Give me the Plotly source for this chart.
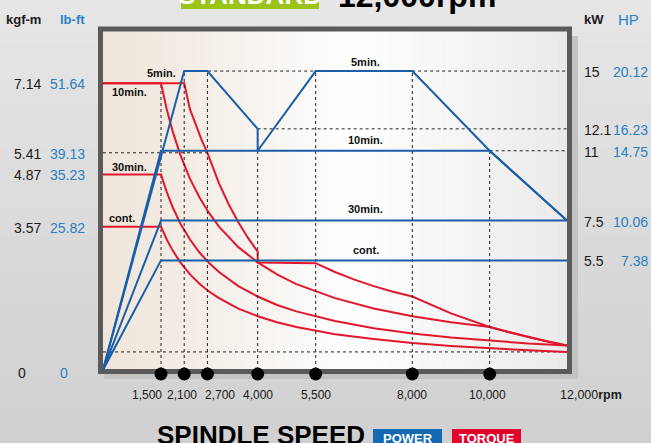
import plotly.graph_objects as go

# ---- data (rpm / kgf-m / kW) ----
rpm_ticks = [1500, 2100, 2700, 4000, 5500, 8000, 10000, 12000]
rpm_text = ["1,500", "2,100", "2,700", "4,000", "5,500", "8,000", "10,000", "12,000"]

torque_ticks = [7.14, 5.41, 4.87, 3.57]
lbft_text = ["51.64", "39.13", "35.23", "25.82"]
power_ticks = [15, 12.1, 11, 7.5, 5.5]
hp_text = ["20.12", "16.23", "14.75", "10.06", "7.38"]

# power curves
p5_rpm = [0, 2100, 2700, 4000, 4000, 5500, 8000, 10000, 12000]
p5_kw = [0, 15, 15, 12.1, 11, 15, 15, 11, 7.5]
p10_rpm = [0, 1500, 10000, 12000]
p10_kw = [0, 11, 11, 7.5]
p30_rpm = [0, 1500, 12000]
p30_kw = [0, 7.5, 7.5]
pc_rpm = [0, 1500, 12000]
pc_kw = [0, 5.5, 5.5]

# torque curves
t5_rpm = [0, 2100, 2250, 2400, 2550, 2700, 3000, 3250, 3500, 3750, 4000, 4000, 4750,
          5500, 6000, 6500, 7000, 7500, 8000, 9000, 10000, 10500, 11000, 11500, 12000]
t5_kgfm = [7.14, 7.14, 6.49, 6.09, 5.73, 5.41, 4.65, 4.13, 3.68, 3.29, 2.95, 2.68, 2.67,
           2.66, 2.44, 2.25, 2.09, 1.95, 1.83, 1.41, 1.07, 0.94, 0.82, 0.71, 0.61]
t10_rpm = [0, 1500, 1650, 1800, 2000, 2250, 2500, 2750, 3000, 3500, 4000, 4500, 5000,
           6000, 7000, 8000, 9000, 10000, 10500, 11000, 11500, 12000]
t10_kgfm = [7.14, 7.14, 6.49, 5.95, 5.36, 4.76, 4.29, 3.90, 3.57, 3.06, 2.68, 2.38, 2.14,
            1.79, 1.53, 1.34, 1.19, 1.07, 0.94, 0.82, 0.71, 0.61]
t30_rpm = [0, 1500, 1650, 1800, 2000, 2250, 2500, 2750, 3000, 3500, 4000, 4500, 5000,
           6000, 7000, 8000, 9000, 10000, 11000, 12000]
t30_kgfm = [4.87, 4.87, 4.43, 4.06, 3.65, 3.25, 2.92, 2.66, 2.44, 2.09, 1.83, 1.62, 1.46,
            1.22, 1.04, 0.91, 0.81, 0.73, 0.66, 0.61]
tc_rpm = [0, 1500, 1650, 1800, 2000, 2250, 2500, 2750, 3000, 3500, 4000, 4500, 5000,
          6000, 7000, 8000, 9000, 10000, 11000, 12000]
tc_kgfm = [3.57, 3.57, 3.25, 2.98, 2.68, 2.38, 2.14, 1.95, 1.79, 1.53, 1.34, 1.19, 1.07,
           0.89, 0.77, 0.67, 0.60, 0.54, 0.49, 0.45]

BLUE = "#1b5ea8"
RED = "#e3162d"
LBLUE = "#2a80c2"
FONT = "Liberation Sans, Arial, sans-serif"

# plot area in pixels: x 0..12000 -> L..R, zero level at Z, area bottom at PB
L, R, T, Z, PB = 103, 567, 31, 370, 380
W, H = 651, 443
TQ_PX = 40.15   # px per kgf-m
KW_PX = 19.93   # px per kW


def pxx(x):
    return (x - L) / (R - L)


def pxy(y):
    return (PB - y) / (PB - T)


def hexmix(c1, c2, f):
    a = [int(c1[i:i + 2], 16) for i in (1, 3, 5)]
    b = [int(c2[i:i + 2], 16) for i in (1, 3, 5)]
    return "#%02x%02x%02x" % tuple(round(a[k] + (b[k] - a[k]) * f) for k in range(3))


def grad(stops, pos):
    for (p0, c0), (p1, c1) in zip(stops, stops[1:]):
        if p0 <= pos <= p1:
            return hexmix(c0, c1, (pos - p0) / (p1 - p0))
    return stops[-1][1]


def rect(x0, x1, y0, y1, **kw):
    return dict(type="rect", xref="paper", yref="paper", layer="below",
                x0=pxx(x0), x1=pxx(x1), y0=pxy(y1), y1=pxy(y0), **kw)


shapes = []
# page background (vertical gradient)
bg_stops = [(0, "#e6e6e6"), (200, "#dcdcdc"), (443, "#d0d0d0")]
n = 30
for i in range(n):
    y0 = i * H / n
    y1 = (i + 1) * H / n + 1
    shapes.append(rect(0, W, y0, y1, fillcolor=grad(bg_stops, (y0 + y1) / 2), line_width=0))
# shadow
shapes.append(rect(104, 578, 36, 379, fillcolor="#c3c3c3", line_width=0))
# plot area (horizontal gradient)
pa_stops = [(L, "#efe5da"), (200, "#f4eee7"), (280, "#f9f6f3"), (345, "#ffffff"),
            (430, "#f8f8f8"), (R, "#eaeaea")]
n = 60
for i in range(n):
    x0 = L + i * (R - L) / n
    x1 = L + (i + 1) * (R - L) / n + 0.6
    shapes.append(rect(x0, x1, T, Z, fillcolor=grad(pa_stops, (x0 + x1) / 2), line_width=0))
# frame
shapes.append(rect(100.5, 569.5, 29, 371.5, line=dict(color="#5a5a5a", width=5)))
# title and legend boxes
shapes.append(rect(181, 319, -30, 9, fillcolor="#9cc31a", line_width=0))
shapes.append(rect(373, 442, 429, 450, fillcolor="#1568b2", line_width=0))
shapes.append(rect(452, 521, 429, 450, fillcolor="#e4022b", line_width=0))

fig = go.Figure()

dash = dict(color="#222222", width=1, dash="3px,3px")


def dline(xs, ys, axis="y"):
    fig.add_trace(go.Scatter(x=xs, y=ys, mode="lines", line=dash, yaxis=axis,
                             hoverinfo="skip", showlegend=False))


# dashed guides
dline([1500, 1500], [0, 7.14])
dline([0, 2700], [5.41, 5.41])
dline([0, 12000], [tc_kgfm[-1], tc_kgfm[-1]])
for xv, pv in [(2100, 15), (2700, 15), (4000, 12.1), (5500, 15), (8000, 15), (10000, 11)]:
    dline([xv, xv], [0, pv], "y2")
dline([2100, 12000], [15, 15], "y2")
dline([4000, 12000], [12.1, 12.1], "y2")
dline([10000, 12000], [11, 11], "y2")

# torque
for xs, ys in [(tc_rpm, tc_kgfm), (t30_rpm, t30_kgfm), (t10_rpm, t10_kgfm), (t5_rpm, t5_kgfm)]:
    fig.add_trace(go.Scatter(x=xs, y=ys, mode="lines", line=dict(color=RED, width=2),
                             showlegend=False))
# power
for xs, ys in [(pc_rpm, pc_kw), (p30_rpm, p30_kw), (p10_rpm, p10_kw), (p5_rpm, p5_kw)]:
    fig.add_trace(go.Scatter(x=xs, y=ys, mode="lines", line=dict(color=BLUE, width=2),
                             yaxis="y2", showlegend=False))

# dots on the speed axis (sit on the bottom of the frame, 4px below zero)
fig.add_trace(go.Scatter(x=rpm_ticks[:-1], y=[-4 / TQ_PX] * (len(rpm_ticks) - 1),
                         mode="markers", marker=dict(color="#000000", size=13),
                         cliponaxis=False, showlegend=False))

ann = []


def txt(x, y, s, size=14, color="#1a1a1a", xanchor="center", xref="paper", yref="paper",
        bold=False, **kw):
    ann.append(dict(x=x, y=y, xref=xref, yref=yref, text=f"<b>{s}</b>" if bold else s,
                    showarrow=False, xanchor=xanchor, yanchor="middle",
                    font=dict(family=FONT, size=size, color=color), **kw))


# axis headers
txt(pxx(43), pxy(19), "kgf-m", 13, xanchor="right", bold=True)
txt(pxx(87), pxy(19), "lb-ft", 13, LBLUE, xanchor="right", bold=True)
txt(pxx(582), pxy(19), "kW", 13, xanchor="left", bold=True)
txt(pxx(616), pxy(19), "HP", 15, LBLUE, xanchor="left")

# left tick labels
for tv, lb in zip(torque_ticks, lbft_text):
    txt(pxx(43), tv, f"{tv:.2f}", xanchor="right", yref="y", yshift=-1)
    txt(pxx(87), tv, lb, color=LBLUE, xanchor="right", yref="y", yshift=-1)
txt(pxx(16), 0, "0", xanchor="left", yref="y", yshift=-3)
txt(pxx(64), 0, "0", color=LBLUE, yref="y", yshift=-3)

# right tick labels
for pv, hp in zip(power_ticks, hp_text):
    txt(pxx(582), pv, f"{pv:g}", xanchor="left", yref="y2", yshift=-1)
    txt(pxx(650), pv, hp, color=LBLUE, xanchor="right", yref="y2", yshift=-1)

# speed tick labels
shifts = [-14, -2, 13, 0, 0, 0, -2]
for xv, s, sh in zip(rpm_ticks[:-1], rpm_text[:-1], shifts):
    txt(xv, pxy(395), s, 12, xref="x", xshift=sh)
txt(rpm_ticks[-1], pxy(395), rpm_text[-1] + "<b>rpm</b>", 12.5, xref="x", xanchor="left",
    xshift=-9)

# curve labels
for x, y, s, ax in [(1500, 7.40, "5min.", "y"), (685, 6.92, "10min.", "y"),
                    (680, 5.06, "30min.", "y"), (504, 3.79, "cont.", "y"),
                    (6800, 15.45, "5min.", "y2"), (6800, 11.54, "10min.", "y2"),
                    (6800, 8.08, "30min.", "y2"), (6800, 6.02, "cont.", "y2")]:
    txt(x, y, s, 11, "#111111", xref="x", yref=ax, bold=True)

# title (cut by page top) and footer
txt(pxx(250), pxy(-5), "STANDARD", 26, "#ffffff", bold=True)
txt(pxx(417), pxy(-4), "12,000rpm", 32, "#000000", bold=True)
txt(pxx(155), pxy(435), "SPINDLE SPEED", 26, "#000000", xanchor="left", bold=True)
txt(pxx(407.5), pxy(439), "POWER", 13, "#ffffff", bold=True)
txt(pxx(486.5), pxy(439), "TORQUE", 13, "#ffffff", bold=True)

fig.update_layout(
    width=W, height=H, autosize=False,
    margin=dict(l=L, r=W - R, t=T, b=H - PB, pad=0),
    paper_bgcolor="#dadada", plot_bgcolor="rgba(0,0,0,0)",
    shapes=shapes, annotations=ann, showlegend=False,
    xaxis=dict(range=[0, 12000], visible=False, fixedrange=True),
    yaxis=dict(range=[-(PB - Z) / TQ_PX, (Z - T) / TQ_PX], visible=False, fixedrange=True),
    yaxis2=dict(range=[-(PB - Z) / KW_PX, (Z - T) / KW_PX], visible=False,
                overlaying="y", fixedrange=True),
    font=dict(family=FONT),
)

# page body has an 8px default margin; drop it so the figure fills the window
fig.write_html("out.html", config={"displayModeBar": False},
               post_script="document.body.style.margin='0';")
